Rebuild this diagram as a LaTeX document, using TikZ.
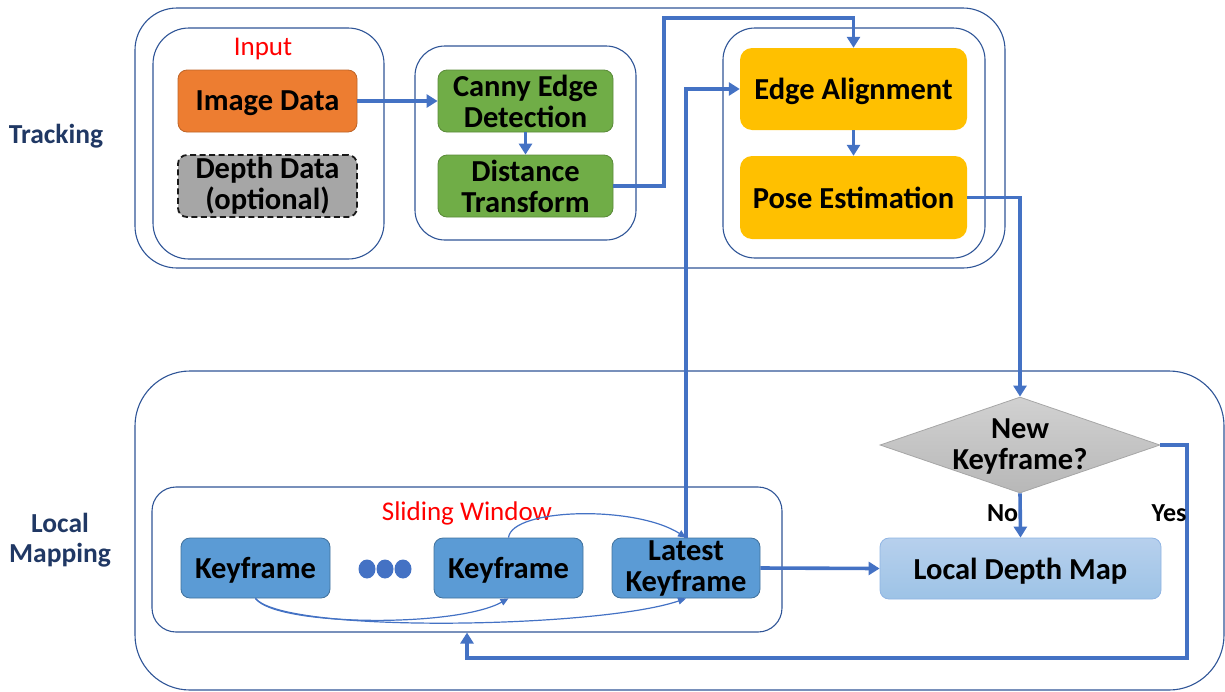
\documentclass[tikz,border=0pt]{standalone}
\usepackage{fontspec}
\setmainfont{Carlito}
\usetikzlibrary{arrows.meta,shapes.geometric}
\definecolor{frame}{HTML}{2F5597}
\definecolor{arrowc}{HTML}{4472C4}
\definecolor{orng}{HTML}{ED7D31}
\definecolor{grn}{HTML}{70AD47}
\definecolor{ylw}{HTML}{FFC000}
\definecolor{kfblue}{HTML}{5B9BD5}
\definecolor{kfedge}{HTML}{41719C}
\definecolor{labelblue}{HTML}{203864}
\begin{document}
\begin{tikzpicture}[x=1pt,y=-1pt,
  group/.style={draw=frame,line width=1.1pt,rounded corners=#1,inner sep=0pt},
  group/.default=30pt,
  box/.style={rounded corners=9pt,inner sep=0pt,align=center,
    font=\fontsize{30.5}{31}\selectfont\bfseries},
  oneline/.style={text depth=0pt},
  arr/.style={draw=arrowc,line width=3.6pt,-{Triangle[length=11pt,width=13pt]}},
  thinarr/.style={draw=arrowc,line width=1.2pt,-{Triangle[length=8pt,width=7pt]}},
  side/.style={font=\fontsize{27.5}{30}\selectfont\bfseries,text=labelblue,align=center},
  redlbl/.style={font=\fontsize{27}{30}\selectfont,text=red},
  lbl/.style={font=\fontsize{26}{29}\selectfont\bfseries}
]
\useasboundingbox (0,0) rectangle (1225,691);

% group frames
\node[group=42pt,minimum width=870pt,minimum height=260pt] (trk) at (570,138) {};
\node[group=36pt,minimum width=231pt,minimum height=231pt] (inp) at (268.5,143.5) {};
\node[group=30pt,minimum width=221pt,minimum height=194pt] (cgrp) at (525.5,143) {};
\node[group=32pt,minimum width=262pt,minimum height=230pt] (egrp) at (854,143) {};
\node[group=55pt,minimum width=1089pt,minimum height=319pt] (lm) at (679.5,530.5) {};
\node[group=24pt,minimum width=630pt,minimum height=145pt] (sw) at (467,559.5) {};

% side labels
\node[side] (ltrk) at (56,136) {Tracking};
\node[side] (llm) at (60,540) {Local\\Mapping};
\node[redlbl] (linp) at (263,49) {Input};
\node[redlbl] (lsw) at (467,513) {Sliding Window};

% tracking boxes
\node[box,oneline,fill=orng,draw=orng!80!black,line width=0.8pt,minimum width=179pt,minimum height=62pt] (img) at (267.5,101) {Image Data};
\node[box,fill=black!35,draw=black!90,line width=1.8pt,dash pattern=on 6pt off 3.5pt,minimum width=179pt,minimum height=62pt] (dep) at (267.5,186) {Depth Data\\(optional)};
\node[box,fill=grn,draw=grn!80!black,line width=0.8pt,minimum width=175pt,minimum height=62pt] (can) at (525.5,101) {Canny Edge\\Detection};
\node[box,fill=grn,draw=grn!80!black,line width=0.8pt,minimum width=175pt,minimum height=62pt] (dist) at (525.5,186) {Distance\\Transform};
\node[box,oneline,fill=ylw,rounded corners=12pt,minimum width=227pt,minimum height=82pt] (ea) at (853.5,89) {Edge Alignment};
\node[box,oneline,fill=ylw,rounded corners=12pt,minimum width=227pt,minimum height=83pt] (pe) at (853.5,197.5) {Pose Estimation};

% local mapping boxes
\node[box,oneline,fill=kfblue,draw=kfedge,line width=0.8pt,minimum width=149pt,minimum height=60pt] (k1) at (255.5,568) {Keyframe};
\node[box,oneline,fill=kfblue,draw=kfedge,line width=0.8pt,minimum width=149pt,minimum height=60pt] (k2) at (508.5,568) {Keyframe};
\node[box,fill=kfblue,draw=kfedge,line width=0.8pt,minimum width=148pt,minimum height=60pt] (lk) at (686,568) {Latest\\Keyframe};
\foreach \i/\xx in {1/367,2/385,3/403}
  \fill[arrowc] (\xx,569) circle[x radius=8.5pt,y radius=9.5pt];
\node[diamond,draw=black!35,line width=0.8pt,top color=black!18,bottom color=black!28,
  minimum width=280pt,minimum height=96pt,inner sep=0pt] (dia) at (1020,445) {};
\node[box,align=center] (diat) at (1020,446) {New\\Keyframe?};
\node[box,oneline,top color={rgb,255:red,183;green,208;blue,237},bottom color={rgb,255:red,157;green,195;blue,230},
  draw={rgb,255:red,143;green,180;blue,227},line width=0.8pt,minimum width=281pt,minimum height=61pt] (ldm) at (1020.5,568.5) {Local Depth Map};

% thick connectors
\draw[arr] (img.east) -- (can.west);
\draw[arr] (can.south) -- (dist.north);
\draw[arr] (dist.east) -| (664,18) -| (ea.north);
\draw[arr] (ea.south) -- (pe.north);
\draw[arr] (pe.east) -| (dia.north);
\draw[arr] (lk.north) |- (ea.west);
\draw[arr] (lk.east) -- (ldm.west);
\draw[arr] (dia.south) -- node[pos=0.45,left=-3pt,lbl] (lno) {No} (ldm.north);
\draw[arr] (dia.east) -| (1187,658) -| (sw.south);
\node[lbl,anchor=east] (lyes) at (1190,513) {Yes};

% thin curved connectors
\draw[thinarr] (k2.north) .. controls (512,508) and (635,505) .. (lk.north);
\draw[thinarr] (k1.south) .. controls (275,626) and (455,628) .. (k2.south);
\draw[thinarr] (k1.south) .. controls (285,634) and (600,628) .. (lk.south);
\end{tikzpicture}
\end{document}
